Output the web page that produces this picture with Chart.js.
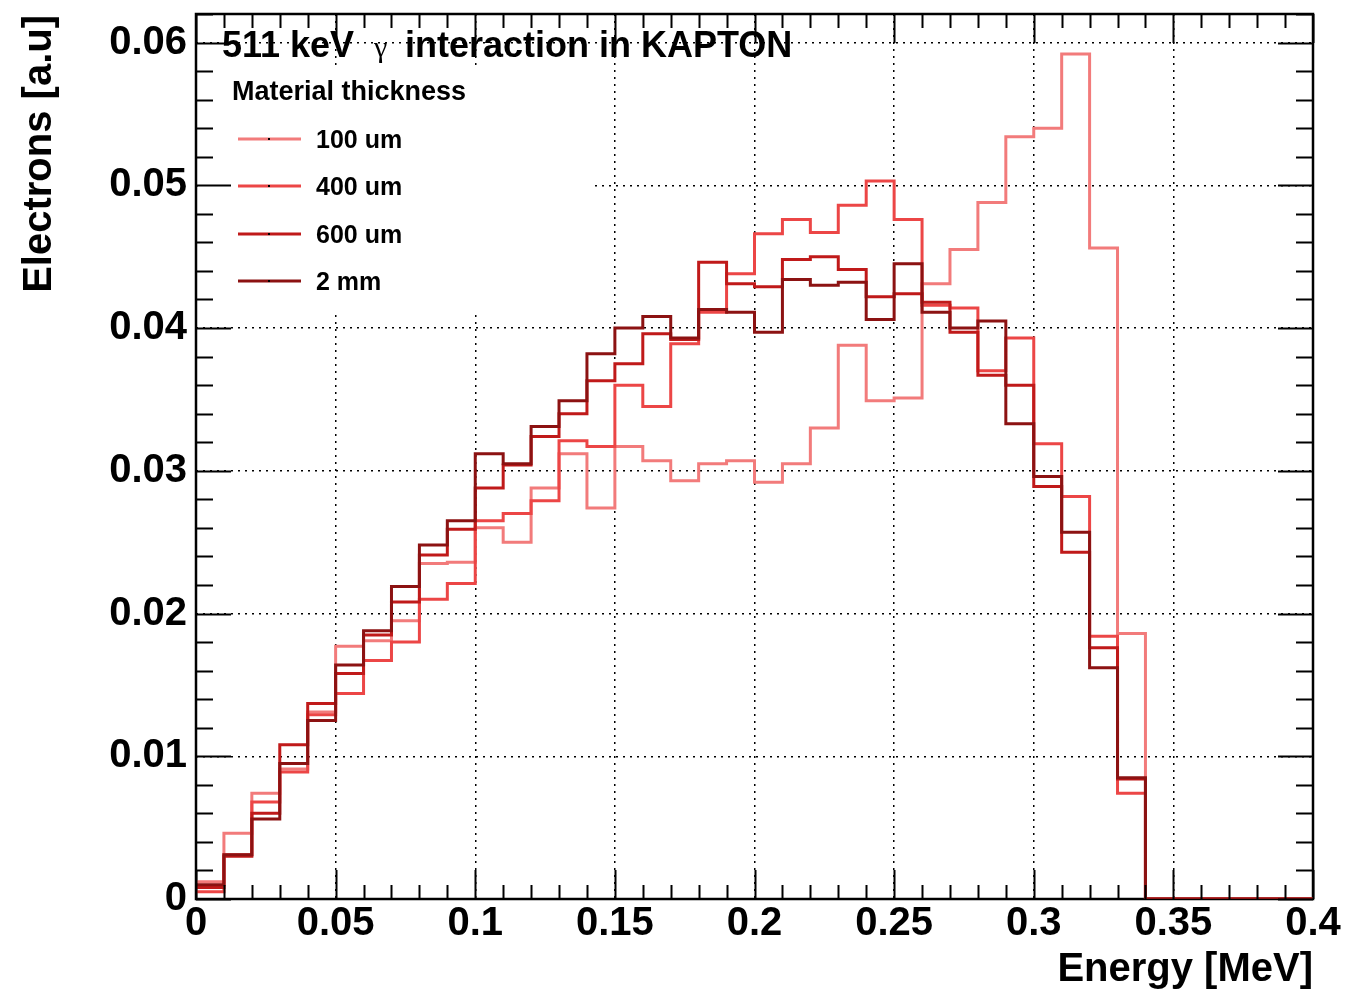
<!DOCTYPE html>
<html>
<head>
<meta charset="utf-8">
<title>511 keV gamma interaction in KAPTON</title>
<script src="https://cdn.jsdelivr.net/npm/chart.js@4"></script>
<style>
  html, body { margin: 0; padding: 0; background: #fff; }
  #wrap { width: 1347px; height: 993px; }
</style>
</head>
<body>
<div id="wrap"><canvas id="hist" width="1347" height="993"></canvas></div>
<script>
// Bin edges (MeV), 40 bins of 0.01
var binEdges = [0, 0.01, 0.02, 0.03, 0.04, 0.05, 0.06, 0.07, 0.08, 0.09,
  0.10, 0.11, 0.12, 0.13, 0.14, 0.15, 0.16, 0.17, 0.18, 0.19,
  0.20, 0.21, 0.22, 0.23, 0.24, 0.25, 0.26, 0.27, 0.28, 0.29,
  0.30, 0.31, 0.32, 0.33, 0.34, 0.35, 0.36, 0.37, 0.38, 0.39, 0.40];

var seriesNames = ['100 um', '400 um', '600 um', '2 mm'];
var seriesColors = ['#f27b7b', '#ec4646', '#c01a1a', '#8c1212'];

// bin contents per thickness
var thick100um = [0.0012, 0.0046, 0.0074, 0.0091, 0.0131, 0.0177, 0.0181, 0.0195, 0.0235, 0.0236,
  0.0260, 0.0250, 0.0288, 0.0312, 0.0274, 0.0317, 0.0307, 0.0293, 0.0305, 0.0307,
  0.0292, 0.0305, 0.0330, 0.0388, 0.0349, 0.0351, 0.0431, 0.0455, 0.0488, 0.0534,
  0.0540, 0.0592, 0.0456, 0.0186, 0, 0, 0, 0, 0, 0];
var thick400um = [0.0005, 0.0031, 0.0068, 0.0089, 0.0129, 0.0144, 0.0167, 0.0180, 0.0210, 0.0221,
  0.0265, 0.0270, 0.0279, 0.0321, 0.0317, 0.0360, 0.0345, 0.0389, 0.0411, 0.0438,
  0.0466, 0.0476, 0.0467, 0.0486, 0.0503, 0.0476, 0.0416, 0.0414, 0.0370, 0.0393,
  0.0319, 0.0282, 0.0184, 0.0074, 0, 0, 0, 0, 0, 0];
var thick600um = [0.0008, 0.0030, 0.0060, 0.0108, 0.0137, 0.0158, 0.0185, 0.0208, 0.0241, 0.0259,
  0.0288, 0.0304, 0.0324, 0.0340, 0.0363, 0.0375, 0.0396, 0.0392, 0.0446, 0.0431,
  0.0429, 0.0448, 0.0450, 0.0441, 0.0422, 0.0424, 0.0418, 0.0397, 0.0367, 0.0360,
  0.0289, 0.0243, 0.0176, 0.0084, 0, 0, 0, 0, 0, 0];
var thick2mm = [0.0010, 0.0031, 0.0056, 0.0095, 0.0125, 0.0164, 0.0188, 0.0219, 0.0248, 0.0265,
  0.0312, 0.0305, 0.0331, 0.0349, 0.0382, 0.0400, 0.0408, 0.0393, 0.0413, 0.0411,
  0.0397, 0.0434, 0.0430, 0.0432, 0.0406, 0.0445, 0.0411, 0.0400, 0.0405, 0.0333,
  0.0296, 0.0257, 0.0162, 0.0085, 0, 0, 0, 0, 0, 0];

var xTickValues = [0, 0.05, 0.1, 0.15, 0.2, 0.25, 0.3, 0.35, 0.4];
var xTickLabels = ['0', '0.05', '0.1', '0.15', '0.2', '0.25', '0.3', '0.35', '0.4'];
var yTickValues = [0, 0.01, 0.02, 0.03, 0.04, 0.05, 0.06];
var yTickLabels = ['0', '0.01', '0.02', '0.03', '0.04', '0.05', '0.06'];

var FONT = 'Liberation Sans, Arial, Helvetica, sans-serif';

// histogram as step line: one point per left bin edge, plus the last edge
function toSteps(vals) {
  return binEdges.map(function (x, i) {
    return { x: x, y: vals[Math.min(i, vals.length - 1)] };
  });
}

var allSeries = [thick100um, thick400um, thick600um, thick2mm];
var datasets = allSeries.map(function (vals, i) {
  return {
    label: seriesNames[i],
    data: toSteps(vals),
    borderColor: seriesColors[i],
    borderWidth: 3,
    stepped: 'before',
    pointRadius: 0,
    fill: false,
    borderJoinStyle: 'miter',
    order: allSeries.length - 1 - i
  };
});

// frame, inward ticks, legend and texts in ROOT style
const rootStyle = {
  id: 'rootStyle',
  beforeDatasetsDraw(chart) {
    const c = chart.ctx, a = chart.chartArea;
    c.save();
    // legend box hides the grid behind it
    c.fillStyle = '#fff';
    c.fillRect(198, 66, 394, 244);
    // frame (drawn under the histograms, like ROOT)
    c.strokeStyle = '#000';
    c.lineWidth = 2.5;
    c.strokeRect(a.left, a.top, a.right - a.left, a.bottom - a.top);
    c.restore();
  },
  afterDraw(chart) {
    const c = chart.ctx, a = chart.chartArea;
    const xs = chart.scales.x, ys = chart.scales.y;
    c.save();

    // tick marks on all four sides
    c.strokeStyle = '#000';
    c.lineWidth = 2;
    c.beginPath();
    for (let k = 0; k <= 40; k++) {
      const px = Math.round(xs.getPixelForValue(k * 0.01)) + 0.5;
      const len = k % 5 === 0 ? 29 : 14;
      c.moveTo(px, a.bottom); c.lineTo(px, a.bottom - len);
      c.moveTo(px, a.top); c.lineTo(px, a.top + len);
    }
    for (let k = 0; k <= 31; k++) {
      const py = Math.round(ys.getPixelForValue(k * 0.002)) + 0.5;
      const len = k % 5 === 0 ? 35 : 17;
      c.moveTo(a.left, py); c.lineTo(a.left + len, py);
      c.moveTo(a.right, py); c.lineTo(a.right - len, py);
    }
    c.stroke();

    c.fillStyle = '#000';
    c.textBaseline = 'alphabetic';

    // title
    c.textAlign = 'left';
    c.font = 'bold 36px ' + FONT;
    c.fillText('511 keV', 222, 57);
    c.font = '30px Liberation Serif, DejaVu Serif, serif';
    c.fillText('\u03b3', 374, 57);
    c.font = 'bold 36px ' + FONT;
    c.fillText('interaction in KAPTON', 405, 57);

    // legend
    c.font = 'bold 27px ' + FONT;
    c.fillText('Material thickness', 232, 100);
    const rowY = [139, 186, 234, 281];
    chart.data.datasets.forEach(function (ds, i) {
      const y = rowY[i];
      c.strokeStyle = ds.borderColor;
      c.lineWidth = 3;
      c.beginPath();
      c.moveTo(238, y); c.lineTo(301, y);
      c.stroke();
      c.fillStyle = '#000';
      c.fillRect(268, y - 1, 2, 2);
      c.font = 'bold 25px ' + FONT;
      c.fillText(ds.label, 316, y + 9);
    });

    // axis titles
    c.font = 'bold 40px ' + FONT;
    c.textAlign = 'right';
    c.fillText('Energy [MeV]', a.right, 981);
    c.translate(51, 15);
    c.rotate(-Math.PI / 2);
    c.fillText('Electrons [a.u]', 0, 0);
    c.restore();
  }
};

const ctx = document.getElementById('hist');
const hist = new Chart(ctx, {
  type: 'line',
  data: { datasets: datasets },
  plugins: [rootStyle],
  options: {
    responsive: false,
    animation: false,
    devicePixelRatio: 1,
    layout: { padding: { top: 14, right: 34, left: 0, bottom: 0 } },
    scales: {
      x: {
        type: 'linear',
        min: 0,
        max: 0.4,
        afterBuildTicks: function (s) {
          s.ticks = xTickValues.map(function (v) { return { value: v }; });
        },
        afterFit: function (s) {
          s.height = 94;
          s.paddingLeft = 0;
          s.paddingRight = 0;
        },
        ticks: {
          autoSkip: false,
          maxRotation: 0,
          padding: 1,
          color: '#000',
          font: { family: FONT, size: 40, weight: 'bold' },
          callback: function (v, i) { return xTickLabels[i]; }
        },
        grid: { color: '#000', lineWidth: 1.5, drawTicks: false },
        border: { display: false, dash: [2, 5] }
      },
      y: {
        type: 'linear',
        min: 0,
        max: 0.062,
        afterBuildTicks: function (s) {
          s.ticks = yTickValues.map(function (v) { return { value: v }; });
        },
        afterFit: function (s) {
          s.width = 196;
          s.paddingTop = 0;
          s.paddingBottom = 0;
        },
        ticks: {
          autoSkip: false,
          padding: 9,
          color: '#000',
          font: { family: FONT, size: 40, weight: 'bold' },
          callback: function (v, i) { return yTickLabels[i]; }
        },
        grid: { color: '#000', lineWidth: 1.5, drawTicks: false },
        border: { display: false, dash: [2, 5] }
      }
    },
    plugins: {
      legend: { display: false },
      tooltip: { enabled: false },
      title: { display: false }
    }
  }
});
</script>
</body>
</html>
